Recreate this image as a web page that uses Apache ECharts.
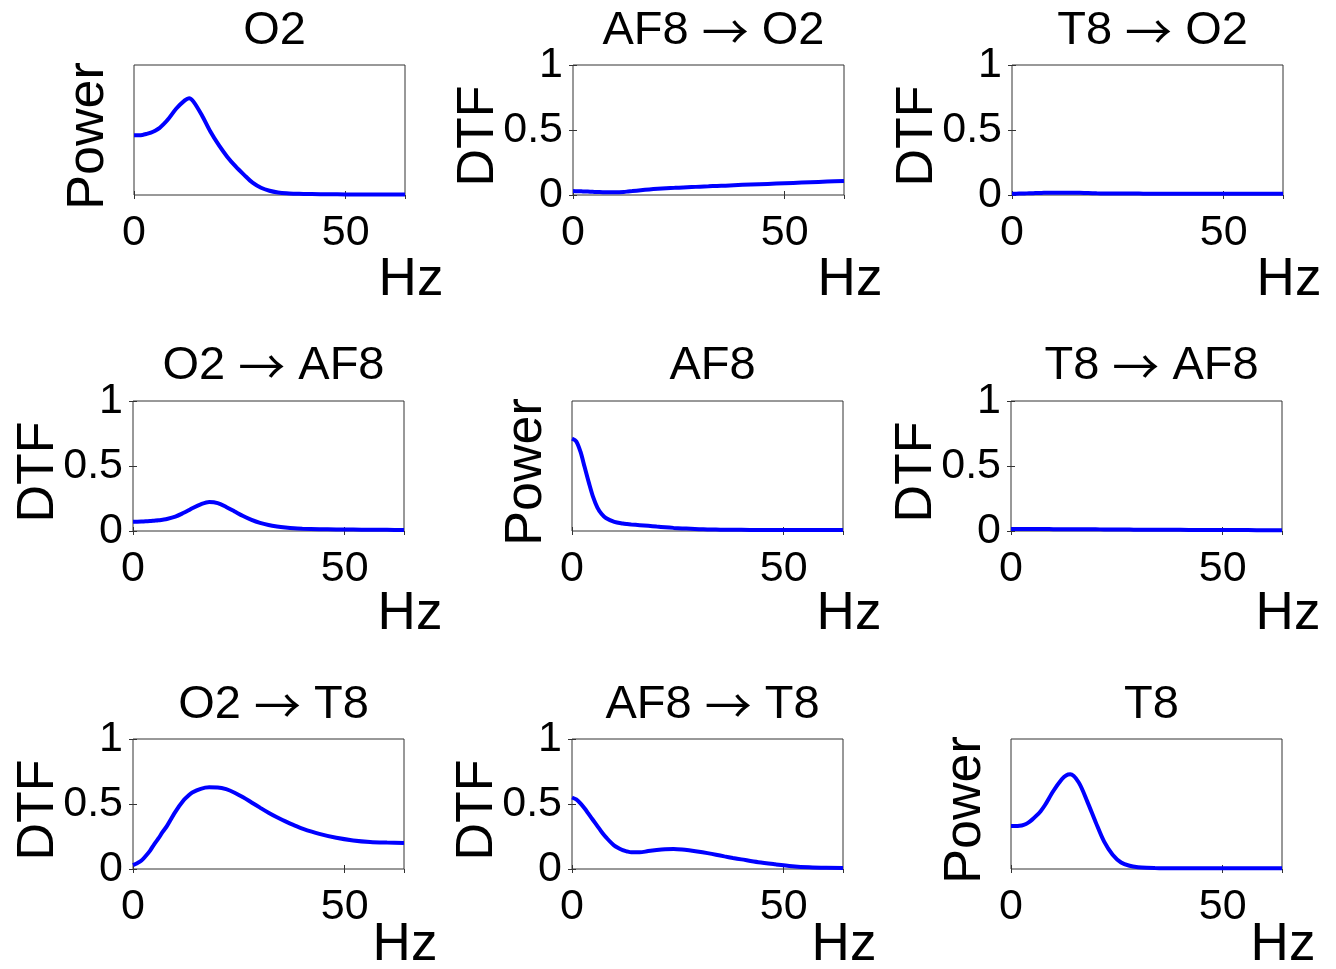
<!DOCTYPE html>
<html><head><meta charset="utf-8">
<script src="https://cdn.jsdelivr.net/npm/echarts@6/dist/echarts.min.js"></script>
<style>html,body{margin:0;padding:0;background:#fff}#c{width:1336px;height:969px}</style>
</head><body><div id="c"></div>
<script>
// ---- data ----
const freqs = [0,1,2,3,4,5,6,7,8,10,12,13,14,16,18,20,22,24,26,28,30,32,34,36,38,40,44,48,52,56,60,64];
const panelTitles = ['O2', 'AF8 {a|\u2192} O2', 'T8 {a|\u2192} O2', 'O2 {a|\u2192} AF8', 'AF8', 'T8 {a|\u2192} AF8', 'O2 {a|\u2192} T8', 'AF8 {a|\u2192} T8', 'T8'];
const panelKinds = ['Power', 'DTF', 'DTF', 'DTF', 'Power', 'DTF', 'DTF', 'DTF', 'Power'];
const xTickLabels = [0, 50];
const dtfTickLabels = [0, 0.5, 1];
const xName = 'Hz';

const powerO2    = [0.46,0.46,0.462,0.47,0.48,0.495,0.515,0.545,0.58,0.665,0.728,0.745,0.72,0.615,0.49,0.385,0.295,0.22,0.155,0.095,0.056,0.033,0.02,0.013,0.01,0.008,0.006,0.005,0.004,0.004,0.003,0.003];
const dtfAF8toO2 = [0.03,0.029,0.028,0.027,0.025,0.024,0.023,0.022,0.022,0.022,0.024,0.027,0.03,0.037,0.043,0.048,0.052,0.055,0.058,0.061,0.064,0.067,0.07,0.072,0.075,0.078,0.083,0.088,0.093,0.098,0.103,0.108];
const dtfT8toO2  = [0.01,0.01,0.011,0.012,0.013,0.014,0.015,0.016,0.017,0.018,0.018,0.018,0.018,0.017,0.015,0.013,0.012,0.011,0.011,0.011,0.011,0.01,0.01,0.01,0.01,0.01,0.01,0.009,0.009,0.009,0.009,0.009];
const dtfO2toAF8 = [0.072,0.072,0.073,0.075,0.076,0.079,0.082,0.087,0.092,0.11,0.14,0.157,0.175,0.205,0.223,0.215,0.185,0.15,0.115,0.085,0.062,0.046,0.035,0.027,0.021,0.018,0.014,0.012,0.011,0.01,0.009,0.007];
const powerAF8   = [0.71,0.69,0.61,0.49,0.37,0.26,0.18,0.13,0.1,0.07,0.057,0.053,0.05,0.045,0.04,0.034,0.029,0.024,0.02,0.017,0.014,0.012,0.011,0.01,0.009,0.009,0.008,0.008,0.007,0.007,0.007,0.007];
const dtfT8toAF8 = [0.015,0.015,0.015,0.015,0.015,0.015,0.015,0.015,0.015,0.014,0.014,0.014,0.014,0.014,0.013,0.013,0.012,0.012,0.011,0.011,0.01,0.01,0.01,0.009,0.009,0.009,0.008,0.008,0.007,0.007,0.006,0.006];
const dtfO2toT8  = [0.03,0.045,0.065,0.1,0.14,0.19,0.235,0.285,0.33,0.44,0.53,0.562,0.588,0.617,0.628,0.627,0.614,0.587,0.552,0.512,0.472,0.433,0.398,0.366,0.337,0.311,0.27,0.24,0.22,0.208,0.203,0.2];
const dtfAF8toT8 = [0.55,0.535,0.505,0.465,0.42,0.375,0.33,0.285,0.245,0.18,0.145,0.135,0.128,0.128,0.138,0.146,0.152,0.154,0.15,0.142,0.133,0.122,0.11,0.097,0.085,0.074,0.052,0.036,0.022,0.013,0.009,0.008];
const powerT8    = [0.33,0.33,0.332,0.34,0.355,0.38,0.41,0.445,0.49,0.6,0.69,0.72,0.728,0.665,0.52,0.36,0.21,0.11,0.05,0.025,0.014,0.009,0.007,0.006,0.005,0.005,0.005,0.005,0.005,0.005,0.005,0.005];

const panelSeries = [powerO2, dtfAF8toO2, dtfT8toO2, dtfO2toAF8, powerAF8, dtfT8toAF8, dtfO2toT8, dtfAF8toT8, powerT8];

// ---- layout ----
const FONT = "'Liberation Sans', Arial, Helvetica, sans-serif";
const colLefts = [[134, 573, 1012], [133, 572, 1011], [133, 572, 1011]];
const rowTops = [65, 401, 739];
const titleOffsets = [62, 63, 62];
const hzOffsets = [54, 52, 45];
const hzShift = [1, 1, -4];
const GW = 271, GH = 130;

const grids = [], xAxes = [], yAxes = [], series = [], titles = [];
for (let i = 0; i < 9; i++) {
  const r = Math.floor(i / 3), c = i % 3;
  const left = colLefts[r][c], top = rowTops[r];
  const isDTF = panelKinds[i] === 'DTF';
  grids.push({left: left, top: top, width: GW, height: GH, show: true,
    borderColor: '#333', borderWidth: 1, backgroundColor: 'transparent', containLabel: false});
  const xBase = {type: 'value', gridIndex: i, min: 0, max: 64, interval: 50,
    splitLine: {show: false}, axisLine: {show: false},
    axisTick: {show: true, inside: true, length: 4, lineStyle: {color: '#333'}}};
  xAxes.push(Object.assign({}, xBase, {position: 'bottom',
    axisLabel: {show: true, fontSize: 43, fontFamily: FONT, color: '#000', margin: 17,
      showMaxLabel: false,
      formatter: v => xTickLabels.indexOf(v) >= 0 ? String(v) : ''}}));
  xAxes.push(Object.assign({}, xBase, {position: 'top', axisLabel: {show: false}}));
  const yBase = {type: 'value', gridIndex: i, min: 0, max: 1, interval: 0.5,
    splitLine: {show: false}, axisLine: {show: false},
    axisTick: {show: isDTF, inside: true, length: 4, lineStyle: {color: '#333'}}};
  yAxes.push(Object.assign({}, yBase, {position: 'left',
    name: panelKinds[i], nameLocation: 'middle', nameRotate: 90,
    nameGap: isDTF ? 68 : 19, nameMoveOverlap: false,
    nameTextStyle: {fontSize: 52, fontFamily: FONT, color: '#000', padding: [0, 12, 0, 0]},
    axisLabel: {show: isDTF, fontSize: 43, fontFamily: FONT, color: '#000', margin: 10,
      padding: [6, 0, 0, 0],
      formatter: v => dtfTickLabels.indexOf(v) >= 0 ? String(v) : ''}}));
  yAxes.push(Object.assign({}, yBase, {position: 'right', axisLabel: {show: false}}));
  series.push({type: 'line', xAxisIndex: 2 * i, yAxisIndex: 2 * i,
    data: freqs.map((f, k) => [f, panelSeries[i][k]]),
    smooth: 0.3, showSymbol: false, symbol: 'none',
    lineStyle: {color: '#0000ff', width: 4}, z: 3, animation: false});
  titles.push({text: panelTitles[i], left: left + GW / 2, top: top - titleOffsets[r], textAlign: 'center',
    textStyle: {fontSize: 47, fontWeight: 'normal', fontFamily: FONT, color: '#000',
      rich: {a: {fontSize: 47, fontFamily: "'Noto Sans CJK SC', 'DejaVu Sans', sans-serif", color: '#000'}}}});
  titles.push({text: xName, left: left + GW + hzShift[r], top: top + GH + hzOffsets[r], textAlign: 'center',
    textStyle: {fontSize: 53, fontWeight: 'normal', fontFamily: FONT, color: '#000'}});
}

const chart = echarts.init(document.getElementById('c'), null, {renderer: 'canvas'});
chart.setOption({
  backgroundColor: '#fff',
  animation: false,
  title: titles,
  grid: grids,
  xAxis: xAxes,
  yAxis: yAxes,
  series: series
});
</script>
</body></html>
